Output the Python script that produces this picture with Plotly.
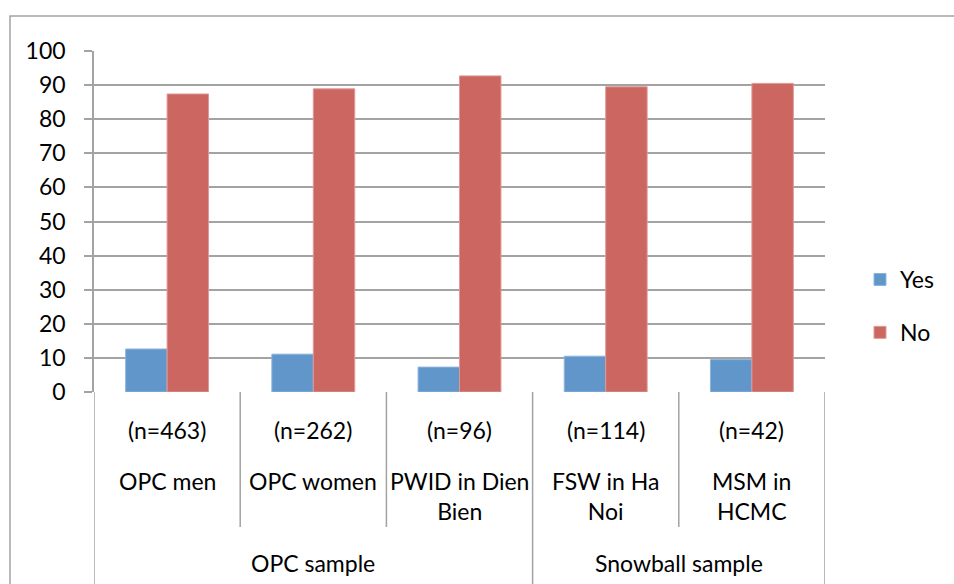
import plotly.graph_objects as go

# Survey responses by sample group (percent)
groups = ["OPC sample", "OPC sample", "OPC sample", "Snowball sample", "Snowball sample"]
subgroups = ["OPC men", "OPC women", "PWID in Dien<br>Bien", "FSW in Ha<br>Noi", "MSM in<br>HCMC"]
sample_sizes = ["(n=463)", "(n=262)", "(n=96)", "(n=114)", "(n=42)"]
yes_pct = [12.6, 11.1, 7.3, 10.5, 9.5]
no_pct = [87.4, 88.9, 92.7, 89.5, 90.5]
y_ticks = [0, 10, 20, 30, 40, 50, 60, 70, 80, 90, 100]

W, H = 954, 584
PLOT_L, PLOT_R, PLOT_T, PLOT_B = 94, 825, 51, 392
PH = PLOT_B - PLOT_T
PW = PLOT_R - PLOT_L
FONT = "Lato, 'Open Sans', sans-serif"
GRID = "#A3A3A3"


def py(px):
    """Pixel row -> paper y."""
    return (PLOT_B - px) / PH


def pxx(px):
    """Pixel column -> paper x."""
    return (px - PLOT_L) / PW


cats = list(range(len(subgroups)))

fig = go.Figure()
fig.add_trace(go.Bar(
    x=cats, y=yes_pct, name="Yes",
    marker=dict(color="#6096CA", line=dict(color="#8DB4DC", width=1)),
    legendgroup="yes",
))
fig.add_trace(go.Bar(
    x=cats, y=no_pct, name="No",
    marker=dict(color="#CC6661", line=dict(color="#DE9A96", width=1)),
    legendgroup="no",
))

shapes = []
# outer chart frame
shapes.append(dict(type="rect", xref="paper", yref="paper",
                   x0=pxx(10), x1=pxx(W + 20), y0=py(H + 20), y1=py(16),
                   line=dict(color=GRID, width=1.5), fillcolor="rgba(0,0,0,0)", layer="below"))

# category dividers below the axis
for i in range(len(cats) + 1):
    xpos = i - 0.5
    is_group_edge = (i == 0 or i == len(cats) or groups[i - 1] != groups[i])
    bottom = H + 5 if is_group_edge else 527
    shapes.append(dict(type="line", xref="x", yref="paper",
                       x0=xpos, x1=xpos, y0=0, y1=py(bottom),
                       line=dict(color=GRID, width=1.5)))

annotations = []
for i in cats:
    annotations.append(dict(x=i, y=py(430), xref="x", yref="paper", text=sample_sizes[i],
                            showarrow=False, xanchor="center", yanchor="middle",
                            font=dict(size=23, family=FONT, color="#000")))
    annotations.append(dict(x=i, y=py(465), xref="x", yref="paper", text=subgroups[i],
                            showarrow=False, xanchor="center", yanchor="top",
                            font=dict(size=23, family=FONT, color="#000")))

# group labels centred under their categories
seen = []
for g in groups:
    if g not in seen:
        seen.append(g)
for g in seen:
    idx = [i for i, gg in enumerate(groups) if gg == g]
    centre = (idx[0] + idx[-1]) / 2
    annotations.append(dict(x=centre, y=py(563), xref="x", yref="paper", text=g,
                            showarrow=False, xanchor="center", yanchor="middle",
                            font=dict(size=23, family=FONT, color="#000")))

fig.update_layout(
    width=W, height=H,
    margin=dict(l=PLOT_L, r=W - PLOT_R, t=PLOT_T, b=H - PLOT_B, autoexpand=False),
    paper_bgcolor="white", plot_bgcolor="white",
    barmode="group", bargap=0.433, bargroupgap=0,
    font=dict(family=FONT, size=23, color="#000"),
    showlegend=True,
    legend=dict(x=pxx(860), xanchor="left", y=py(258), yanchor="top",
                font=dict(size=23, family=FONT, color="#000"),
                tracegroupgap=20, traceorder="grouped", bgcolor="rgba(0,0,0,0)"),
    shapes=shapes,
    annotations=annotations,
)
fig.update_xaxes(range=[-0.5, len(cats) - 0.5], showticklabels=False, showgrid=False,
                 zeroline=False, showline=False, ticks="", fixedrange=True)
fig.update_yaxes(range=[0, 100], tickvals=y_ticks, showgrid=True, gridcolor=GRID, gridwidth=1.5,
                 zeroline=False, showline=True, linecolor=GRID, linewidth=1.5,
                 ticks="outside", ticklen=8, tickcolor=GRID, tickwidth=1.5,
                 ticklabelstandoff=14,
                 tickfont=dict(size=23, family=FONT, color="#000"))

fig.write_html("out.html")
